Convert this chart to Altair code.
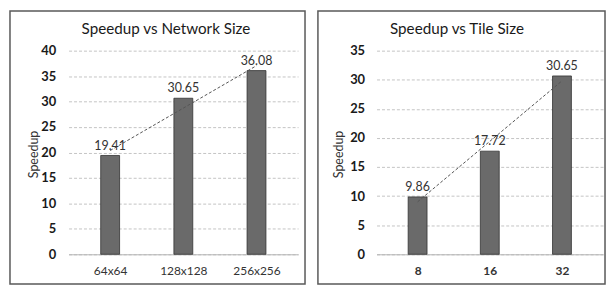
import altair as alt
import pandas as pd

# ---- data ----
net_sizes = ["64x64", "128x128", "256x256"]
net_speedup = [19.41, 30.65, 36.08]
tile_sizes = ["8", "16", "32"]
tile_speedup = [9.86, 17.72, 30.65]

FONT = "Lato"
H = 275


def panel(cats, vals, title, ymax, width, xrange, title_dx, ylab_pad, ytitle_x, xlabel_bold):
    df = pd.DataFrame({"idx": list(range(1, len(cats) + 1)), "cat": cats, "speedup": vals})
    label_expr = "[" + ",".join(f"'{c}'" for c in cats) + "][datum.value - 1]"
    x = alt.X(
        "idx:Q",
        scale=alt.Scale(domain=[0.5, len(cats) + 0.5], range=xrange, nice=False, zero=False),
        axis=alt.Axis(
            values=list(range(1, len(cats) + 1)), labelExpr=label_expr, grid=False, ticks=False,
            domainColor="#b4b4b4", domainWidth=1, orient="bottom", offset=-30, labelPadding=11,
            labelFont=FONT, labelFontSize=12, labelFontWeight="bold" if xlabel_bold else "normal",
            labelColor="#333333", title=None,
        ),
    )
    y = alt.Y(
        "speedup:Q",
        scale=alt.Scale(domain=[0, ymax], range=[245, 40], nice=False, zero=True),
        axis=alt.Axis(
            values=list(range(0, ymax + 1, 5)), orient="left", offset=-59, ticks=False, domain=False,
            grid=True, gridColor="#c4c4c4", gridDash=[3, 2], gridWidth=1,
            labelPadding=ylab_pad, labelFont=FONT, labelFontSize=13, labelFontWeight="bold",
            labelColor="#1a1a1a",
            title="Speedup", titleFont=FONT, titleFontSize=12.5, titleFontWeight="normal",
            titleColor="#333333", titleX=ytitle_x, titleY=144, titleAngle=270,
            titleBaseline="middle", titleAlign="center",
        ),
    )
    base = alt.Chart(df).encode(x=x, y=y)
    bars = base.mark_bar(size=19, fill="#6a6a6a", stroke="#333333", strokeWidth=0.8)
    trend = base.transform_regression("idx", "speedup").mark_line(
        color="#555555", strokeDash=[3, 2], strokeWidth=1
    )
    labels = base.mark_text(dy=-10, font=FONT, fontSize=12.5, color="#333333").encode(
        text=alt.Text("speedup:Q", format=".2f")
    )
    return alt.layer(bars, trend, labels).properties(
        width=width,
        height=H,
        title=alt.TitleParams(
            title, font=FONT, fontSize=15.3, fontWeight="normal", color="#1a1a1a",
            anchor="middle", frame="group", offset=-27, dx=title_dx,
        ),
    )


left = panel(net_sizes, net_speedup, "Speedup vs Network Size", 40, 297, [59, 290], 8.5, 13, -35.5, False)
right = panel(tile_sizes, tile_speedup, "Speedup vs Tile Size", 35, 289, [59, 287], -4.5, 12, -38.4, True)

chart = (
    alt.hconcat(left, right, spacing=11)
    .properties(padding={"left": 1, "top": 1, "right": 1, "bottom": 1}, background="white")
    .configure_view(stroke="#595959", strokeWidth=1.5)
)

chart.save("out.html", embed_options={"renderer": "svg", "actions": False})
